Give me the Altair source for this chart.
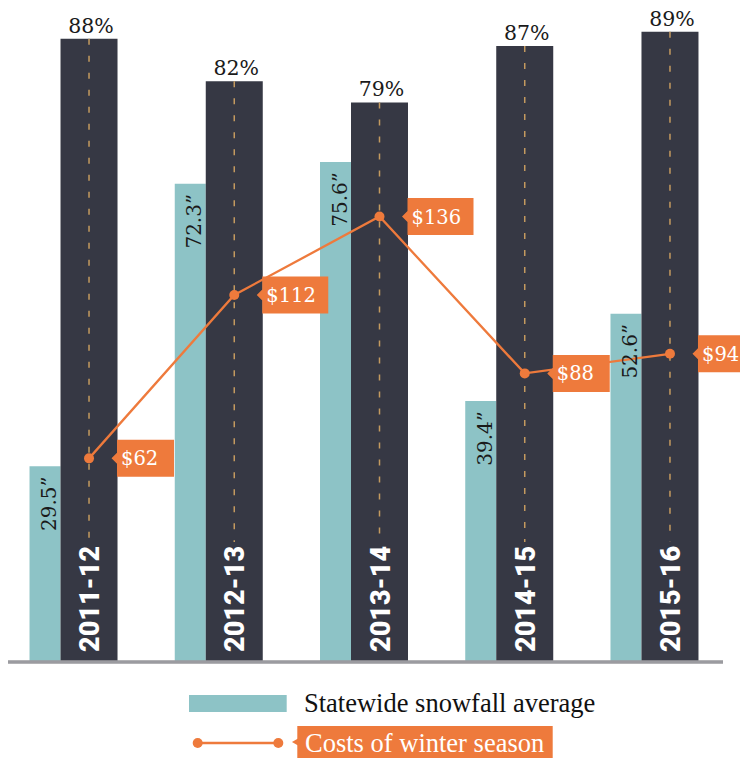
import altair as alt
import pandas as pd

# ---- data ----
seasons = ["2011-12", "2012-13", "2013-14", "2014-15", "2015-16"]
snowfall = [29.5, 72.3, 75.6, 39.4, 52.6]
pct = [88, 82, 79, 87, 89]
cost = [62, 112, 136, 88, 94]
legend_labels = ["Statewide snowfall average", "Costs of winter season"]

df = pd.DataFrame({"season": seasons, "snow": snowfall, "pct": pct, "cost": cost})

TEAL = "#8DC3C6"
DARK = "#363844"
ORANGE = "#EE7A3C"
DASH = "#C49A5F"
GRAY = "#9B9BA0"
W, H = 732, 750
BASE = 653
LBL = "DejaVu Serif"
SERIF = "Liberation Serif, Times New Roman, serif"

x = alt.X("season:N", sort=seasons,
          scale=alt.Scale(domain=seasons, range=[8.4, 734.6], paddingInner=0, paddingOuter=0),
          axis=None)
y_pct = alt.Y("pct:Q", scale=alt.Scale(domain=[0, 92.36], range=[BASE, 0]), axis=None)
y_snow = alt.Y("snow:Q", scale=alt.Scale(domain=[0, 98.94], range=[BASE, 0]), axis=None)
y_cost = alt.Y("cost:Q", scale=alt.Scale(domain=[0, 199.8], range=[BASE, 0]), axis=None)

base = alt.Chart(df)

teal = base.mark_bar(width=31, xOffset=-44, color=TEAL).encode(x=x, y=y_snow)
dark = base.mark_bar(width=57, color=DARK).encode(x=x, y=y_pct)
dashes = base.mark_rule(color=DASH, strokeWidth=1.5, strokeDash=[6, 11]).encode(
    x=x, y=y_pct, y2=alt.value(534))

line = base.mark_line(color=ORANGE, strokeWidth=2.3).encode(x=x, y=y_cost)
pts = base.mark_circle(color=ORANGE, size=100, opacity=1).encode(x=x, y=y_cost)

box2 = "M0.225,0 L0.28,-0.055 L0.28,-0.185 L0.85,-0.185 L0.85,0.185 L0.28,0.185 L0.28,0.055 Z"
box3 = "M0.225,0 L0.28,-0.055 L0.28,-0.185 L0.94,-0.185 L0.94,0.185 L0.28,0.185 L0.28,0.055 Z"
boxes_small = base.transform_filter("datum.cost < 100").mark_point(
    shape=box2, size=40000, filled=True, color=ORANGE, opacity=1, strokeWidth=0
).encode(x=x, y=y_cost)
boxes_big = base.transform_filter("datum.cost >= 100").mark_point(
    shape=box3, size=40000, filled=True, color=ORANGE, opacity=1, strokeWidth=0
).encode(x=x, y=y_cost)
cost_text = base.transform_calculate(lbl="'$' + datum.cost").mark_text(
    font=LBL, fontSize=19.5, color="white", align="left", baseline="middle",
    xOffset=32, yOffset=1
).encode(x=x, y=y_cost, text="lbl:N")

snow_text = base.transform_calculate(lbl="datum.snow + '\u201d'").mark_text(
    font=LBL, fontSize=20, color="#1a1a1a", angle=270, align="right",
    baseline="alphabetic", xOffset=-33, yOffset=10
).encode(x=x, y=y_snow, text="lbl:N")

pct_text = base.transform_calculate(lbl="datum.pct + '%'").mark_text(
    font=LBL, fontSize=20.5, color="#1a1a1a", align="center", baseline="alphabetic",
    xOffset=2, yOffset=-6
).encode(x=x, y=y_pct, text="lbl:N")

year_text = base.mark_text(
    font="Roboto", fontSize=27, fontWeight=900, color="white", angle=270,
    align="left", baseline="alphabetic", xOffset=10
).encode(x=x, y=alt.value(644), text="season:N")

baseline = base.mark_rule(color=GRAY, strokeWidth=2.5).encode(
    x=alt.value(-3), x2=alt.value(715), y=alt.value(BASE + 1))

# ---- legend ----
leg1 = alt.Chart(pd.DataFrame({"label": [legend_labels[0]]}))
leg2 = alt.Chart(pd.DataFrame({"label": [legend_labels[1]]}))
leg_rect = leg1.mark_rect(color=TEAL).encode(
    x=alt.value(181), x2=alt.value(278.7), y=alt.value(687), y2=alt.value(704))
leg_text1 = leg1.mark_text(font=SERIF, fontSize=26.5, color="#111111",
                           align="left", baseline="alphabetic").encode(
    x=alt.value(296), y=alt.value(704), text="label:N")
leg_line = leg2.mark_rule(color=ORANGE, strokeWidth=2.3).encode(
    x=alt.value(189.7), x2=alt.value(270.3), y=alt.value(735))
leg_dot1 = leg2.mark_circle(color=ORANGE, size=100, opacity=1).encode(
    x=alt.value(189.7), y=alt.value(735))
leg_dot2 = leg2.mark_circle(color=ORANGE, size=100, opacity=1).encode(
    x=alt.value(270.3), y=alt.value(735))
leg_box = leg2.mark_rect(color=ORANGE).encode(
    x=alt.value(289.3), x2=alt.value(544.7), y=alt.value(718), y2=alt.value(750))
leg_tri = leg2.mark_point(shape="triangle-left", filled=True, color=ORANGE, opacity=1,
                          size=50).encode(x=alt.value(287), y=alt.value(734))
leg_text2 = leg2.mark_text(font=SERIF, fontSize=26.5, color="white",
                           align="left", baseline="alphabetic").encode(
    x=alt.value(297), y=alt.value(744), text="label:N")

chart = alt.layer(
    teal, dark, dashes, line, pts, boxes_small, boxes_big, cost_text,
    snow_text, pct_text, year_text, baseline,
    leg_rect, leg_text1, leg_line, leg_dot1, leg_dot2, leg_box, leg_tri, leg_text2
).resolve_scale(y="independent").properties(
    width=W, height=H, padding=0,
    autosize=alt.AutoSizeParams(type="none")
).configure_view(stroke=None)

chart.save("out.html", embed_options={"renderer": "svg", "actions": False})
